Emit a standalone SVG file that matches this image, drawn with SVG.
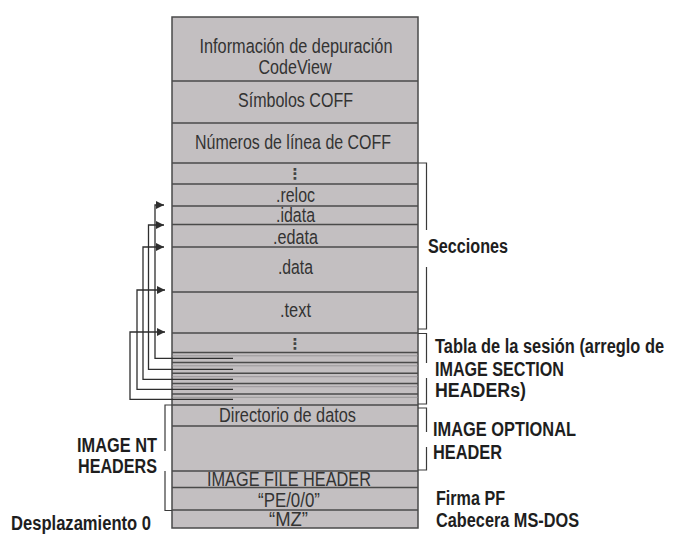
<svg xmlns="http://www.w3.org/2000/svg" width="678" height="550" viewBox="0 0 678 550">
<defs>
<style>
.box{fill:#c3bfc1;stroke:#4a4a4a;stroke-width:1.5}
.sep{stroke:#4a4a4a;stroke-width:1.6;fill:none}
.thin{stroke:#8a8789;stroke-width:0.7;fill:none}
.con{stroke:#2e2e2e;stroke-width:1.3;fill:none}
.br{stroke:#3a3a3a;stroke-width:1.2;fill:none}
.t{font-family:"Liberation Sans Narrow","Liberation Sans",Arial,sans-serif;font-size:20.5px;fill:#333;text-anchor:middle}
.d{font-family:"DejaVu Sans",sans-serif;font-size:15px;font-weight:bold;fill:#444;text-anchor:middle}
.b{font-family:"Liberation Sans Narrow","Liberation Sans",Arial,sans-serif;font-size:20px;font-weight:bold;fill:#1e1e1e}
</style>
<marker id="ah" viewBox="0 0 8 8" refX="8" refY="4" markerWidth="8" markerHeight="8" markerUnits="userSpaceOnUse" orient="auto">
<path d="M0,0 L8,4 L0,8 z" fill="#2e2e2e"/>
</marker>
</defs>

<g id="structure">
<rect class="box" x="172" y="17" width="246" height="511"/>
<line class="sep" x1="172" y1="81" x2="418" y2="81"/>
<line class="sep" x1="172" y1="123" x2="418" y2="123"/>
<line class="sep" x1="172" y1="163" x2="418" y2="163"/>
<line class="sep" x1="172" y1="184" x2="418" y2="184"/>
<line class="sep" x1="172" y1="206" x2="418" y2="206"/>
<line class="sep" x1="172" y1="224.5" x2="418" y2="224.5"/>
<line class="sep" x1="172" y1="247" x2="418" y2="247"/>
<line class="sep" x1="172" y1="292" x2="418" y2="292"/>
<line class="sep" x1="172" y1="333" x2="418" y2="333"/>
<line class="sep" x1="172" y1="352.5" x2="418" y2="352.5"/>
<line class="thin" x1="172" y1="355.8" x2="418" y2="355.8"/>
<line class="sep" x1="172" y1="362.5" x2="418" y2="362.5"/>
<line class="thin" x1="172" y1="365.8" x2="418" y2="365.8"/>
<line class="sep" x1="172" y1="373.3" x2="418" y2="373.3"/>
<line class="thin" x1="172" y1="376.7" x2="418" y2="376.7"/>
<line class="sep" x1="172" y1="383.5" x2="418" y2="383.5"/>
<line class="thin" x1="172" y1="386.7" x2="418" y2="386.7"/>
<line class="sep" x1="172" y1="394" x2="418" y2="394"/>
<line class="thin" x1="172" y1="397.3" x2="418" y2="397.3"/>
<line class="sep" x1="172" y1="405" x2="418" y2="405"/>
<line class="sep" x1="172" y1="426" x2="418" y2="426"/>
<line class="sep" x1="172" y1="471" x2="418" y2="471"/>
<line class="sep" x1="172" y1="487.5" x2="418" y2="487.5"/>
<line class="sep" x1="172" y1="510" x2="418" y2="510"/>
</g>

<g id="node-codeview"><text class="t" x="296" y="53" textLength="193" lengthAdjust="spacingAndGlyphs">Información de depuración</text><text class="t" x="295" y="74" textLength="73" lengthAdjust="spacingAndGlyphs">CodeView</text></g>
<g id="node-simbolos"><text class="t" x="295.5" y="107" textLength="115" lengthAdjust="spacingAndGlyphs">Símbolos COFF</text></g>
<g id="node-numeros"><text class="t" x="293" y="149" textLength="196" lengthAdjust="spacingAndGlyphs">Números de línea de COFF</text></g>
<g id="node-dots1"><text class="d" x="295" y="179">⋮</text></g>
<g id="node-reloc"><text class="t" x="295.5" y="202" textLength="39" lengthAdjust="spacingAndGlyphs">.reloc</text></g>
<g id="node-idata"><text class="t" x="295.5" y="222" textLength="39" lengthAdjust="spacingAndGlyphs">.idata</text></g>
<g id="node-edata"><text class="t" x="295.5" y="244" textLength="45" lengthAdjust="spacingAndGlyphs">.edata</text></g>
<g id="node-data"><text class="t" x="295.5" y="274" textLength="35" lengthAdjust="spacingAndGlyphs">.data</text></g>
<g id="node-text"><text class="t" x="295.5" y="317" textLength="31" lengthAdjust="spacingAndGlyphs">.text</text></g>
<g id="node-dots2"><text class="d" x="295" y="349">⋮</text></g>
<g id="node-directorio"><text class="t" x="287.5" y="422" textLength="137" lengthAdjust="spacingAndGlyphs">Directorio de datos</text></g>
<g id="node-filehdr"><text class="t" x="289" y="486" textLength="164" lengthAdjust="spacingAndGlyphs">IMAGE FILE HEADER</text></g>
<g id="node-pe"><text class="t" x="289" y="507" textLength="62" lengthAdjust="spacingAndGlyphs">“PE/0/0”</text></g>
<g id="node-mz"><text class="t" x="288.5" y="526" textLength="39" lengthAdjust="spacingAndGlyphs">“MZ”</text></g>

<g id="connectors">
<path class="con" d="M233,358.3 H155 V205 H164" marker-end="url(#ah)"/>
<path class="con" d="M233,369.3 H148.5 V225 H164" marker-end="url(#ah)"/>
<path class="con" d="M233,379.3 H143 V247 H164" marker-end="url(#ah)"/>
<path class="con" d="M233,389.3 H137 V290 H165" marker-end="url(#ah)"/>
<path class="con" d="M233,399.3 H130 V332 H165" marker-end="url(#ah)"/>
</g>

<g id="brackets">
<path class="br" d="M418,163 H426.5 V230 M426.5,267 V329 H418"/>
<path class="br" d="M418,333.5 H426.5 V363 M426.5,378 V404 H418"/>
<path class="br" d="M418,408 H426.5 V432 M426.5,447 V470 H418"/>
<path class="br" d="M172,405 H165 V451 M165,471 V510.5 H172"/>
</g>

<g id="labels">
<text class="b" x="428" y="253" textLength="80" lengthAdjust="spacingAndGlyphs">Secciones</text>
<text class="b" x="435" y="353" textLength="229" lengthAdjust="spacingAndGlyphs">Tabla de la sesión (arreglo de</text>
<text class="b" x="435" y="376" textLength="129" lengthAdjust="spacingAndGlyphs">IMAGE SECTION</text>
<text class="b" x="435" y="397" textLength="91" lengthAdjust="spacingAndGlyphs">HEADERs)</text>
<text class="b" x="433" y="436" textLength="143" lengthAdjust="spacingAndGlyphs">IMAGE OPTIONAL</text>
<text class="b" x="433" y="459" textLength="69" lengthAdjust="spacingAndGlyphs">HEADER</text>
<text class="b" x="436" y="505" textLength="69" lengthAdjust="spacingAndGlyphs">Firma PF</text>
<text class="b" x="436" y="527" textLength="143" lengthAdjust="spacingAndGlyphs">Cabecera MS-DOS</text>
<text class="b" x="77" y="452" textLength="80" lengthAdjust="spacingAndGlyphs">IMAGE NT</text>
<text class="b" x="78" y="473" textLength="79" lengthAdjust="spacingAndGlyphs">HEADERS</text>
<text class="b" x="11" y="530" textLength="140" lengthAdjust="spacingAndGlyphs">Desplazamiento 0</text>
</g>
</svg>
